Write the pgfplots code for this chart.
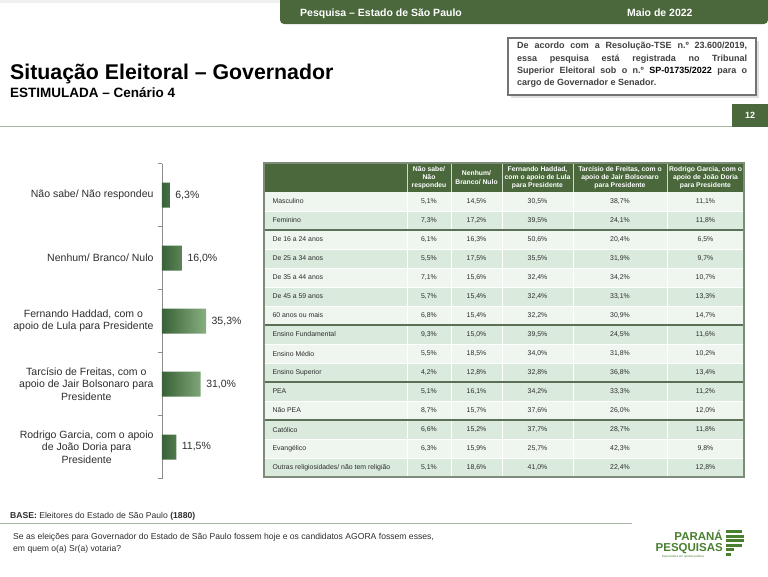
\documentclass[border=0pt]{standalone}
\usepackage{pgfplots}
\pgfplotsset{compat=1.18}
\usepackage{fontspec}
\setmainfont{Liberation Sans}
\definecolor{hdrGreen}{RGB}{74,104,60}
\definecolor{barDark}{RGB}{58,98,56}
\definecolor{barLight}{RGB}{135,175,128}
\definecolor{rowLight}{RGB}{239,246,240}
\definecolor{rowDark}{RGB}{218,234,220}
\definecolor{sepGreen}{RGB}{92,112,88}
\definecolor{lineGray}{RGB}{168,180,162}
\definecolor{textGray}{RGB}{45,45,45}
\definecolor{logoGreen}{RGB}{72,128,48}
\newcommand{\fs}[2]{\fontsize{#1}{#2}\selectfont}
\newcommand{\tabfont}{\fs{6.9}{8}\color{textGray}}
% table row: #1 index, #2 fill, #3 label, #4-#8 values
\newcommand{\trow}[8]{%
  \fill[#2] (264,{192+19*#1}) rectangle (744,{211+19*#1});
  \node[anchor=west,font=\tabfont] at (269,{201.5+19*#1}) {#3};
  \node[font=\tabfont] at (429,{201.5+19*#1}) {#4\%};
  \node[font=\tabfont] at (476.5,{201.5+19*#1}) {#5\%};
  \node[font=\tabfont] at (537.5,{201.5+19*#1}) {#6\%};
  \node[font=\tabfont] at (620,{201.5+19*#1}) {#7\%};
  \node[font=\tabfont] at (705.5,{201.5+19*#1}) {#8\%};
}
\begin{document}
\begin{tikzpicture}
\useasboundingbox (0,0) rectangle (768pt,-576pt);
\begin{scope}[x=1pt,y=-1pt]
  % header bar
  \fill[black!6] (0,0) rectangle (280,3);
  \fill[hdrGreen] (280,0) [rounded corners=4pt] -- (280,24) -- (768,24) [sharp corners] -- (768,0) -- cycle;
  \node[anchor=base west,inner sep=0,font=\fs{10.5}{12}\bfseries,text=white] at (300,16) {Pesquisa – Estado de São Paulo};
  \node[anchor=base west,inner sep=0,font=\fs{10.5}{12}\bfseries,text=white] at (627,16) {Maio de 2022};
  % titles
  \node[anchor=base west,font=\fs{21.3}{24}\bfseries,inner sep=0] at (10,79) {Situação Eleitoral – Governador};
  \node[anchor=base west,font=\fs{13.5}{16}\bfseries,inner sep=0] at (10,97) {ESTIMULADA – Cenário 4};
  % registration box
  \fill[black!12] (511,41) rectangle (759,98);
  \draw[line width=2.5pt,draw=black!55,fill=white] (508,38) rectangle (756,95);
  \node[anchor=north west,inner sep=0,text width=230pt,align=justify,font=\fs{9}{12.3}\bfseries,text=black!75] at (517,42)
   {De acordo com a Resolução-TSE n.º 23.600/2019,\linebreak essa pesquisa está registrada no Tribunal\linebreak Superior Eleitoral sob o n.º {\color{black}SP-01735/2022} para o\linebreak cargo de Governador e Senador.};
  % page number and rule
  \draw[line width=1.5pt,lineGray] (0,126.5) -- (732,126.5);
  \fill[hdrGreen] (732,104) rectangle (768,127);
  \node[font=\fs{9}{11}\bfseries,text=white] at (750,115.5) {12};
  % table header
  \fill[hdrGreen] (264,163) rectangle (744,192);
  \foreach \xx in {407,451,502,573,667} {\draw[white!75!hdrGreen,line width=0.8pt] (\xx,163) -- (\xx,192);}
  \node[align=center,font=\fs{6.8}{8.2}\bfseries,text=white] at (429,177.5) {Não sabe/\\Não\\respondeu};
  \node[align=center,font=\fs{6.8}{8.2}\bfseries,text=white] at (476.5,177.5) {Nenhum/\\Branco/ Nulo};
  \node[align=center,font=\fs{6.8}{8.2}\bfseries,text=white] at (537.5,177.5) {Fernando Haddad,\\com o apoio de Lula\\para Presidente};
  \node[align=center,font=\fs{6.8}{8.2}\bfseries,text=white] at (620,177.5) {Tarcísio de Freitas, com o\\apoio de Jair Bolsonaro\\para Presidente};
  \node[align=center,font=\fs{6.8}{8.2}\bfseries,text=white] at (705.5,177.5) {Rodrigo Garcia, com o\\apoio de João Doria\\para Presidente};
  % table body
  \trow{0}{rowLight}{Masculino}{5,1}{14,5}{30,5}{38,7}{11,1}
  \trow{1}{rowDark}{Feminino}{7,3}{17,2}{39,5}{24,1}{11,8}
  \trow{2}{rowLight}{De 16 a 24 anos}{6,1}{16,3}{50,6}{20,4}{6,5}
  \trow{3}{rowDark}{De 25 a 34 anos}{5,5}{17,5}{35,5}{31,9}{9,7}
  \trow{4}{rowLight}{De 35 a 44 anos}{7,1}{15,6}{32,4}{34,2}{10,7}
  \trow{5}{rowDark}{De 45 a 59 anos}{5,7}{15,4}{32,4}{33,1}{13,3}
  \trow{6}{rowLight}{60 anos ou mais}{6,8}{15,4}{32,2}{30,9}{14,7}
  \trow{7}{rowDark}{Ensino Fundamental}{9,3}{15,0}{39,5}{24,5}{11,6}
  \trow{8}{rowLight}{Ensino Médio}{5,5}{18,5}{34,0}{31,8}{10,2}
  \trow{9}{rowDark}{Ensino Superior}{4,2}{12,8}{32,8}{36,8}{13,4}
  \trow{10}{rowDark}{PEA}{5,1}{16,1}{34,2}{33,3}{11,2}
  \trow{11}{rowLight}{Não PEA}{8,7}{15,7}{37,6}{26,0}{12,0}
  \trow{12}{rowDark}{Católico}{6,6}{15,2}{37,7}{28,7}{11,8}
  \trow{13}{rowLight}{Evangélico}{6,3}{15,9}{25,7}{42,3}{9,8}
  \trow{14}{rowDark}{Outras religiosidades/ não tem religião}{5,1}{18,6}{41,0}{22,4}{12,8}
  \foreach \k in {1,...,14} {\draw[white,line width=0.6pt] (264,{192+19*\k}) -- (744,{192+19*\k});}
  \foreach \xx in {407,451,502,573,667} {\draw[white,line width=0.8pt] (\xx,192) -- (\xx,477);}
  \foreach \yy in {230,325,382,420} {\draw[sepGreen,line width=1.5pt] (264,\yy) -- (744,\yy);}
  \draw[sepGreen!80,line width=1.6pt] (264,163) rectangle (744,477);
  % footer
  \node[anchor=base west,inner sep=0,font=\fs{8.6}{10},text=textGray] at (10,518) {\textbf{BASE:} Eleitores do Estado de São Paulo \textbf{(1880)}};
  \draw[line width=1.5pt,lineGray] (0,523.5) -- (632,523.5);
  \node[anchor=north west,inner sep=0,align=left,font=\fs{8.6}{12.5},text=textGray] at (13,533)
   {Se as eleições para Governador do Estado de São Paulo fossem hoje e os candidatos AGORA fossem esses,\\em quem o(a) Sr(a) votaria?};
  % logo
  \node[anchor=base east,inner sep=0,font=\fs{11.5}{12}\bfseries,text=logoGreen] at (723,540) {PARANÁ};
  \node[anchor=base east,inner sep=0,font=\fs{11.5}{12}\bfseries,text=logoGreen] at (723,551) {PESQUISAS};
  \node[anchor=base west,inner sep=0,font=\fs{3}{4},text=logoGreen] at (662,557) {Especialista em opinião pública};
  \foreach \yy/\ww in {530/16,534.5/18,539/18,543.5/16,548/8,552.5/5} {\fill[logoGreen] (726,\yy) rectangle ({726+\ww},{\yy+3});}
\end{scope}
\begin{axis}[
  at={(162pt,-163.5pt)}, anchor=north west,
  scale only axis, width=50pt, height=315pt,
  xbar, bar width=25pt,
  xmin=0, xmax=40,
  ymin=-0.5, ymax=4.5, y dir=reverse,
  hide x axis, axis y line*=left,
  y axis line style={draw=black!45, line width=0.6pt},
  ytick={0,1,2,3,4},
  yticklabels={{Não sabe/ Não respondeu},{Nenhum/ Branco/ Nulo},{Fernando Haddad, com o\\apoio de Lula para Presidente},{Tarcísio de Freitas, com o\\apoio de Jair Bolsonaro para\\Presidente},{Rodrigo Garcia, com o apoio\\de João Doria para\\Presidente}},
  yticklabel style={align=center, font=\fs{10.5}{12.3}, text=textGray, xshift=-5pt},
  major tick length=0pt, tick align=outside,
  extra y ticks={-0.5,0.5,1.5,2.5,3.5,4.5}, extra y tick labels={},
  extra y tick style={major tick length=4pt, tick style={draw=black!45, line width=0.6pt}},
  /pgf/number format/assume math mode=true,
  nodes near coords={\pgfmathprintnumber[fixed, fixed zerofill, precision=1, use comma]{\pgfplotspointmeta}\%},
  nodes near coords style={font=\fs{10.5}{12}, text=textGray, xshift=2pt},
  clip=false,
]
\addplot[draw=none, left color=barDark, right color=barLight] coordinates {(6.3,0) (16.0,1) (35.3,2) (31.0,3) (11.5,4)};
\end{axis}
\end{tikzpicture}
\end{document}
